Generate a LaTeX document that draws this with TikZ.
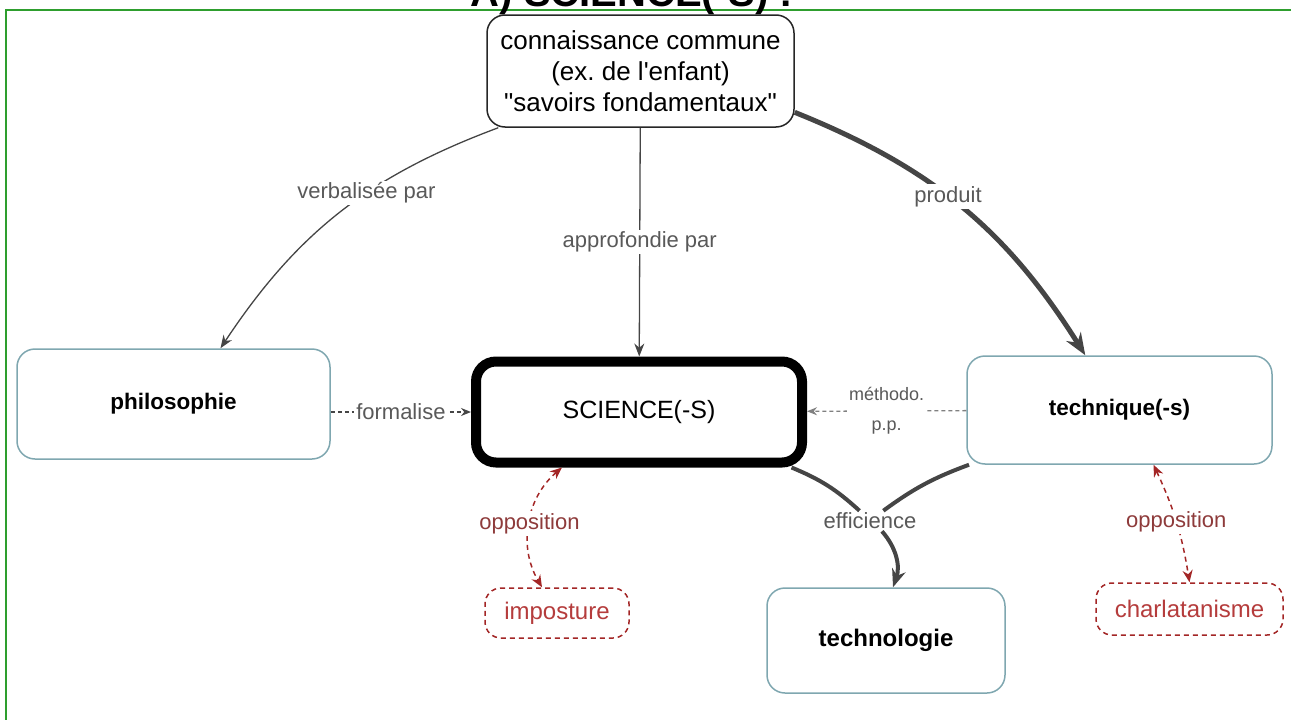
\documentclass[tikz,border=0pt]{standalone}
\usepackage{fontspec}
\setmainfont{Liberation Sans}[Ligatures=TeXOff]
\usetikzlibrary{arrows.meta}
\definecolor{linkgray}{HTML}{454545}
\definecolor{labelgray}{HTML}{595959}
\definecolor{boxteal}{HTML}{7FA7B0}
\definecolor{oppred}{HTML}{A32626}
\definecolor{opptext}{HTML}{8E3B3B}
\definecolor{imptext}{HTML}{B53C3C}
\definecolor{framegreen}{HTML}{2E9E2E}
\frenchspacing

\begin{document}
\begin{tikzpicture}[x=1pt,y=1pt]
        \tikzstyle{arrow}=[draw=linkgray, line width=1.3pt, -{Stealth[length=13pt,width=10pt]}];
        \tikzstyle{thickarrow}=[draw=linkgray, line width=5pt, -{Stealth[length=22pt,width=17pt]}];
        \tikzstyle{thickline}=[draw=linkgray, line width=4pt];
        \tikzstyle{dasharrow}=[draw=linkgray, line width=1.3pt, dash pattern=on 4pt off 3pt, -{Stealth[length=10pt,width=8pt]}];
        \tikzstyle{opparrow}=[draw=oppred, line width=1.5pt, dash pattern=on 5pt off 4pt, {Stealth[length=12pt,width=10pt]}-{Stealth[length=12pt,width=10pt]}];
        \tikzstyle{lbl}=[fill=white, text=labelgray, inner sep=2pt, font=\fontsize{22}{27}\selectfont];
        \tikzstyle{opplbl}=[lbl, text=opptext];
        \tikzstyle{box}=[draw=boxteal, line width=1.5pt, rounded corners=18pt, fill=white, text=black, font=\fontsize{22.5}{27}\selectfont\bfseries];
        \tikzstyle{fakebox}=[draw=oppred, line width=1.5pt, dash pattern=on 5pt off 4pt, rounded corners=16pt, fill=white, text=imptext, font=\fontsize{24}{29}\selectfont];
        \useasboundingbox (0,0) rectangle (1291,-720);
        \draw[draw=framegreen, line width=2pt] (1291,-9.5) -- (5.5,-9.5) -- (5.5,-720);
        \node[anchor=base, font=\fontsize{40}{48}\selectfont\bfseries] (title) at (632,-6) {A) SCIENCE(-S) :};

        \node[draw=black!85, line width=1.5pt, rounded corners=18pt, fill=white, align=center, minimum width=307pt, minimum height=112pt, font=\fontsize{26}{31}\selectfont] (conn) at (640.5,-71) {connaissance commune\\(ex. de l'enfant)\\"savoirs fondamentaux"};
        \node[draw=black, line width=10pt, rounded corners=20pt, fill=white, minimum width=326pt, minimum height=101pt, font=\fontsize{25}{30}\selectfont] (sci) at (639,-412) {SCIENCE(-S)};
        \node[box, minimum width=313pt, minimum height=110pt] (philo) at (173.5,-404) {philosophie};
        \node[box, minimum width=305pt, minimum height=108pt] (tech) at (1119.5,-410) {technique(-s)};
        \node[box, minimum width=238pt, minimum height=105pt, font=\fontsize{24}{29}\selectfont\bfseries] (techno) at (886,-640.5) {technologie};
        \node[fakebox, minimum width=144pt, minimum height=50pt] (imp) at (557,-613) {imposture};
        \node[fakebox, minimum width=187pt, minimum height=52pt] (charl) at (1189.5,-609) {charlatanisme};

        \draw[arrow] ([xshift=12pt]conn.south west) to[bend right=18] node[lbl, pos=0.4]{verbalisée par} ([xshift=47pt]philo.north);
        \draw[arrow] (conn) -- node[lbl]{approfondie par} (sci);
        \draw[thickarrow] (conn.-15) to[bend left=18] node[lbl, pos=0.45]{produit} (tech.122);

        \draw[dasharrow] (philo.east |- sci) -- node[lbl]{formalise} (sci);
        \draw[dasharrow, draw=gray] (tech) -- node[lbl, align=center, font=\fontsize{18}{30}\selectfont]{méthodo.\\p.p.} (sci);

        \node[lbl] (eff) at (870,-521) {efficience};
        \draw[thickline] (sci.-20) to[bend left=10] (eff);
        \draw[thickline] (tech.200) to[bend right=8] (eff);
        \draw[thickline, -{Stealth[length=18pt,width=14pt]}] ([xshift=12pt]eff.south) to[bend left=30] ([xshift=7pt]techno.north);

        \draw[opparrow] ([xshift=-77pt]sci.south) to[bend right=40] node[opplbl]{opposition} ([xshift=-15pt]imp.north);
        \draw[opparrow] ([xshift=34pt]tech.south) to[bend left=8] node[opplbl]{opposition} (charl.north);
\end{tikzpicture}
\end{document}
